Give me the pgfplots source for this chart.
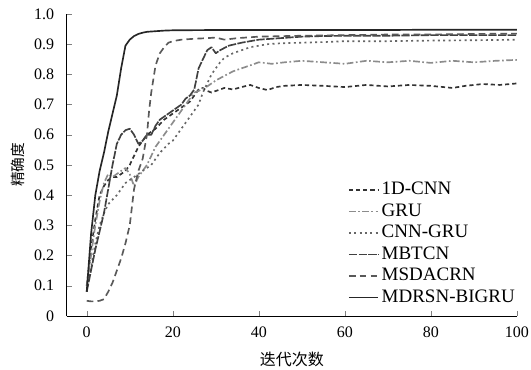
\documentclass[border=0pt]{standalone}
\usepackage{pgfplots}
\pgfplotsset{compat=1.18}
\usepackage{fontspec}
\setmainfont{Liberation Serif}
\newfontfamily\cjk{Noto Sans CJK SC}
\begin{document}
\begin{tikzpicture}
\begin{axis}[
  name=ax,
  scale only axis,
  width=270pt, height=181pt,
  xmin=-4.65, xmax=100, ymin=0, ymax=1,
  axis lines*=left,
  tick align=inside,
  major tick length=3pt,
  xtick={0,20,40,60,80,100},
  ytick={0,0.1,0.2,0.3,0.4,0.5,0.6,0.7,0.8,0.9,1.0},
  yticklabels={0,0.1,0.2,0.3,0.4,0.5,0.6,0.7,0.8,0.9,1.0},
  /pgf/number format/assume math mode=true,
  tick label style={font=\fontsize{9.6}{11}\selectfont},
  yticklabel style={xshift=-4pt},
  xticklabel style={yshift=-3pt},
  xlabel={\cjk 迭代次数},
  ylabel={\cjk 精确度},
  xlabel style={font=\fontsize{9.6}{11}\selectfont, yshift=-2pt},
  ylabel style={font=\fontsize{8.8}{10}\selectfont, yshift=-1pt},
  legend cell align=left,
  legend style={draw=none, fill=none, at={(axis cs:59.5,0.458)}, anchor=north west,
    font=\fontsize{11.4}{12}\selectfont, row sep=2.4pt,
    nodes={inner ysep=0pt, inner xsep=1.5pt, text height=8pt, text depth=2.5pt},
    legend image code/.code={\draw[#1] (0cm,0cm) -- (0.62cm,0cm);}},
  every axis plot/.append style={line width=1pt, line join=round},
]
% 1D-CNN
\addplot[black!80, dash pattern=on 2.5pt off 1.8pt] coordinates {
(0,0.1)(1,0.22)(2,0.32)(3,0.4)(4,0.43)(5,0.45)(6,0.46)(7,0.46)(8,0.47)(9,0.48)(10,0.5)(11,0.53)(12,0.56)(13,0.58)(14,0.6)(15,0.61)(16,0.62)(17,0.635)(18,0.65)(19,0.66)(20,0.67)(21,0.68)(22,0.69)(23,0.7)(24,0.71)(25,0.73)(26,0.75)(27,0.755)(28,0.745)(29,0.74)(30,0.745)(32,0.755)(34,0.75)(36,0.758)(38,0.765)(40,0.755)(42,0.748)(44,0.758)(46,0.762)(50,0.765)(55,0.762)(60,0.758)(65,0.765)(70,0.76)(75,0.765)(80,0.762)(85,0.755)(88,0.762)(92,0.768)(96,0.765)(100,0.77)};
\addlegendentry{1D-CNN}
% GRU
\addplot[black!45, dash pattern=on 4pt off 1.5pt on 1pt off 1.5pt] coordinates {
(0,0.1)(1,0.2)(2,0.3)(3,0.38)(4,0.44)(5,0.47)(6,0.46)(7,0.47)(8,0.48)(9,0.49)(10,0.47)(11,0.43)(12,0.46)(13,0.48)(14,0.5)(15,0.53)(16,0.56)(17,0.58)(18,0.6)(19,0.62)(20,0.64)(21,0.66)(22,0.68)(23,0.7)(24,0.72)(25,0.74)(26,0.745)(28,0.76)(30,0.78)(32,0.795)(34,0.81)(36,0.82)(38,0.83)(40,0.84)(43,0.835)(46,0.84)(50,0.845)(55,0.84)(60,0.835)(65,0.845)(70,0.84)(75,0.845)(80,0.838)(85,0.845)(90,0.84)(95,0.845)(100,0.848)};
\addlegendentry{GRU}
% CNN-GRU
\addplot[black!60, dash pattern=on 1.2pt off 2pt] coordinates {
(0,0.08)(1,0.16)(2,0.24)(3,0.3)(4,0.34)(5,0.37)(6,0.385)(7,0.4)(8,0.42)(9,0.44)(10,0.45)(11,0.46)(12,0.47)(13,0.48)(14,0.49)(15,0.5)(16,0.52)(17,0.54)(18,0.555)(19,0.57)(20,0.58)(22,0.62)(24,0.66)(26,0.7)(27,0.74)(28,0.77)(29,0.8)(30,0.82)(31,0.84)(32,0.855)(34,0.87)(36,0.88)(38,0.89)(40,0.895)(42,0.9)(45,0.903)(50,0.905)(55,0.907)(60,0.91)(70,0.91)(80,0.912)(90,0.913)(100,0.915)};
\addlegendentry{CNN-GRU}
% MBTCN
\addplot[black!75, dash pattern=on 5pt off 0.8pt] coordinates {
(0,0.08)(1,0.15)(2,0.22)(3,0.28)(4,0.34)(5,0.42)(6,0.5)(7,0.57)(8,0.6)(9,0.615)(10,0.62)(11,0.6)(12,0.57)(13,0.58)(14,0.6)(15,0.6)(16,0.63)(17,0.65)(18,0.66)(19,0.67)(20,0.68)(21,0.69)(22,0.7)(23,0.72)(24,0.73)(25,0.75)(26,0.82)(27,0.85)(28,0.88)(29,0.89)(30,0.87)(31,0.88)(33,0.895)(36,0.905)(40,0.915)(45,0.92)(50,0.925)(55,0.927)(60,0.928)(70,0.928)(80,0.93)(90,0.93)(100,0.93)};
\addlegendentry{MBTCN}
% MSDACRN
\addplot[black!65, dash pattern=on 4pt off 2.5pt] coordinates {
(0,0.05)(1,0.048)(2,0.048)(3,0.05)(4,0.055)(5,0.08)(6,0.11)(7,0.15)(8,0.19)(9,0.24)(10,0.3)(11,0.42)(12,0.48)(13,0.52)(14,0.6)(14.5,0.68)(15,0.74)(16,0.83)(17,0.87)(18,0.89)(19,0.905)(20,0.91)(22,0.915)(25,0.918)(28,0.92)(30,0.922)(32,0.915)(35,0.92)(40,0.925)(50,0.928)(60,0.93)(70,0.932)(80,0.932)(90,0.934)(100,0.935)};
\addlegendentry{MSDACRN}
% MDRSN-BIGRU
\addplot[black!85] coordinates {
(0,0.08)(1,0.27)(2,0.4)(3,0.48)(4,0.54)(5,0.61)(6,0.67)(7,0.73)(8,0.82)(9,0.895)(10,0.915)(11,0.927)(12,0.934)(13,0.938)(14,0.941)(16,0.943)(18,0.945)(20,0.946)(30,0.947)(40,0.947)(50,0.947)(60,0.947)(70,0.947)(80,0.948)(90,0.948)(100,0.948)};
\addlegendentry{MDRSN-BIGRU}
\end{axis}
\pgfresetboundingbox
\path ([shift={(-40pt,-32.3pt)}]ax.south west) rectangle ([shift={(8.4pt,8.4pt)}]ax.north east);
\end{tikzpicture}
\end{document}
